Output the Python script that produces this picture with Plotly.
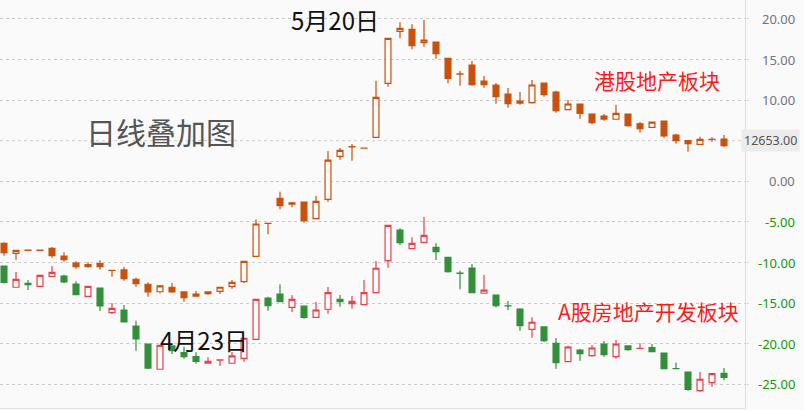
import plotly.graph_objects as go

# candle index (trading days)
days = list(range(61))

# 港股地产板块 (% change)
hk_open = [-7.64, -8.87, -8.50, -8.50, -8.25, -9.20, -10.06, -10.26, -10.14, -10.98,
           -10.92, -12.07, -12.68, -13.60, -13.05, -13.63, -13.88, -13.63, -13.55, -12.93,
           -12.36, -9.24, -5.19, -2.09, -2.65, -2.55, -4.60, -2.22, 3.08, 4.24,
           4.08, 5.42, 12.07, 18.47, 18.72, 17.07, 17.15, 15.15, 13.23, 14.32,
           12.35, 11.86, 10.75, 9.89, 9.68, 12.10, 11.00, 8.82, 9.52, 8.29,
           8.04, 7.64, 8.29, 7.09, 6.65, 7.43, 5.70, 5.00, 4.56, 5.15, 5.21]
hk_high = [-7.50, -8.50, -8.48, -8.48, -8.09, -8.74, -9.85, -9.98, -9.73, -10.96,
           -10.55, -11.87, -12.44, -12.77, -12.52, -13.60, -13.51, -13.63, -13.05, -12.16,
           -9.85, -4.68, -5.17, -1.28, -2.51, -2.55, -1.81, 3.73, 4.10, 4.59,
           4.10, 12.39, 17.61, 19.58, 19.33, 19.86, 17.15, 15.15, 13.58, 14.81,
           12.97, 12.10, 11.49, 11.00, 12.48, 12.10, 11.16, 10.01, 9.52, 8.29,
           8.29, 9.40, 8.29, 7.30, 7.30, 7.43, 5.86, 5.00, 5.49, 5.42, 5.70]
hk_low = [-9.16, -9.65, -8.50, -8.50, -9.41, -9.90, -10.76, -10.64, -10.88, -11.75,
          -12.24, -12.98, -14.21, -13.79, -13.72, -14.83, -14.21, -13.96, -13.88, -13.23,
          -12.52, -9.24, -6.53, -3.45, -3.20, -5.10, -4.60, -2.51, 2.66, 2.54,
          4.08, 5.42, 11.65, 17.61, 16.26, 16.58, 15.10, 12.07, 11.77, 11.77,
          11.53, 9.56, 9.06, 9.43, 9.56, 10.42, 8.45, 8.82, 7.71, 7.02,
          7.46, 7.64, 6.72, 5.99, 6.65, 5.37, 4.63, 3.65, 4.56, 4.88, 4.19]
hk_close = [-8.79, -8.50, -8.48, -8.48, -9.16, -9.65, -10.50, -10.50, -10.50, -10.96,
            -11.99, -12.61, -13.63, -12.89, -13.63, -14.33, -14.13, -13.84, -13.05, -12.44,
            -9.85, -5.26, -5.17, -3.00, -2.80, -4.85, -2.46, 2.62, 3.82, 4.26,
            4.10, 10.34, 17.61, 18.84, 16.70, 17.40, 15.71, 12.68, 13.21, 11.90,
            11.90, 10.42, 9.56, 9.64, 11.86, 10.67, 8.69, 9.52, 8.37, 7.22,
            7.67, 8.37, 6.85, 6.48, 7.30, 5.58, 5.00, 4.63, 5.17, 5.17, 4.38]

# A股房地产开发板块 (% change)
a_open = [-10.43, -13.05, -12.56, -12.93, -11.70, -11.66, -12.65, -14.16, -13.14, -16.18,
          -15.85, -17.82, -20.04, -23.15, -20.28, -21.10, -21.60, -22.41, -22.02, -22.41,
          -21.80, -19.46, -14.37, -13.88, -15.52, -15.36, -16.75, -15.76, -14.53, -15.07,
          -15.20, -13.72, -9.78, -6.00, -8.30, -7.51, -8.13, -9.36, -11.31, -10.68,
          -13.79, -14.00, -15.34, -15.73, -18.23, -17.94, -19.95, -22.22, -20.78, -21.48,
          -20.04, -21.60, -20.28, -20.59, -20.49, -21.15, -23.06, -23.49, -25.79, -24.80, -23.65]
a_high = [-10.43, -11.17, -12.16, -11.58, -10.43, -11.50, -12.32, -12.93, -13.14, -14.99,
          -15.23, -17.17, -20.04, -20.20, -20.28, -20.37, -21.06, -21.67, -21.99, -21.02,
          -19.33, -14.53, -14.21, -12.68, -14.04, -15.36, -14.86, -13.02, -14.00, -14.13,
          -12.16, -9.82, -5.42, -5.79, -6.90, -4.40, -7.64, -9.36, -11.01, -10.18,
          -11.54, -14.00, -14.74, -15.65, -16.75, -17.94, -19.30, -20.25, -20.65, -20.16,
          -19.67, -19.54, -20.28, -19.95, -20.04, -21.15, -22.34, -23.49, -23.49, -23.69, -22.99]
a_low = [-12.60, -13.05, -13.39, -12.93, -11.75, -12.53, -13.96, -14.16, -15.97, -16.34,
         -17.33, -20.86, -23.12, -23.15, -21.27, -21.85, -22.46, -22.41, -22.75, -22.41,
         -22.22, -19.46, -15.94, -14.83, -16.10, -16.92, -16.75, -16.31, -15.44, -15.69,
         -15.20, -13.72, -10.64, -7.84, -8.30, -7.51, -9.69, -11.26, -13.30, -13.79,
         -13.79, -15.52, -15.85, -18.40, -19.26, -19.79, -23.08, -22.22, -22.09, -21.60,
         -21.60, -21.85, -20.86, -20.59, -20.98, -23.16, -23.10, -25.79, -25.95, -25.30, -24.50]
a_close = [-12.44, -12.07, -12.73, -11.58, -11.21, -12.40, -13.96, -12.93, -15.36, -15.64,
           -17.33, -19.42, -23.00, -20.20, -20.86, -21.60, -22.17, -22.17, -21.99, -21.51,
           -19.33, -14.53, -15.32, -14.83, -14.53, -16.75, -15.85, -13.72, -14.83, -14.78,
           -13.72, -10.71, -5.42, -7.56, -7.64, -6.65, -8.67, -11.13, -11.33, -13.72,
           -13.39, -15.32, -15.36, -17.78, -17.36, -19.63, -22.34, -20.41, -21.23, -20.53,
           -21.36, -20.04, -20.74, -20.57, -20.98, -23.08, -23.08, -25.62, -24.38, -23.69, -24.14]

tick_vals = [20, 15, 10, 0, -5, -10, -15, -20, -25]
last_price = "12653.00"

BG = "#fafafa"
HK = "#c9510c"
UP = "#e8414a"
DOWN = "#338f3a"

fig = go.Figure()
fig.add_trace(go.Candlestick(
    x=days, open=hk_open, high=hk_high, low=hk_low, close=hk_close,
    increasing=dict(line=dict(color=HK, width=1.2), fillcolor=BG),
    decreasing=dict(line=dict(color=HK, width=1.2), fillcolor=HK),
    whiskerwidth=0, showlegend=False, hoverinfo="skip"))
fig.add_trace(go.Candlestick(
    x=days, open=a_open, high=a_high, low=a_low, close=a_close,
    increasing=dict(line=dict(color=UP, width=1.2), fillcolor=BG),
    decreasing=dict(line=dict(color=DOWN, width=1.2), fillcolor=DOWN),
    whiskerwidth=0, showlegend=False, hoverinfo="skip"))

# 5.00 gridline sits behind the price tag, draw it separately
fig.add_hline(y=5, line=dict(color="#cccccc", width=1, dash="dot"), layer="below")

cjk = "Noto Sans CJK SC"
ann = [
    dict(text="日线叠加图", x=0.216, y=0.679, font=dict(size=30, color="#555555", family=cjk)),
    dict(text="5月20日", x=0.45, y=0.951, font=dict(size=24, color="#111111", family=cjk)),
    dict(text="4月23日", x=0.274, y=0.167, font=dict(size=24, color="#111111", family=cjk)),
    dict(text="港股地产板块", x=0.882, y=0.804, font=dict(size=21, color="#ff1a1a", family=cjk)),
    dict(text="A股房地产开发板块", x=0.871, y=0.238, font=dict(size=21, color="#ff1a1a", family=cjk)),
]
for a in ann:
    fig.add_annotation(xref="paper", yref="paper", showarrow=False,
                       xanchor="center", yanchor="middle", **a)

# right-aligned axis labels, negatives in green
lab_x = 797 / 745
for v in tick_vals:
    col = "#0f990f" if v < 0 else "#72727e"
    fig.add_annotation(xref="paper", yref="y", x=lab_x, y=v, xanchor="right",
                       text=f"{v:.2f}", showarrow=False,
                       font=dict(size=13, color=col, family="Noto Sans"))

fig.add_annotation(xref="paper", yref="y", x=800 / 745, y=5, xanchor="right",
                   text=last_price, showarrow=False, bgcolor="#ececec",
                   borderpad=2, font=dict(size=12.5, color="#555555", family="Noto Sans"))

fig.update_layout(
    width=804, height=410,
    margin=dict(l=0, r=59, t=0, b=2),
    paper_bgcolor=BG, plot_bgcolor=BG,
    xaxis=dict(range=[-0.333, 61.75], showgrid=False, showticklabels=False,
               zeroline=False, rangeslider=dict(visible=False),
               showline=True, linecolor="#e2e2e2"),
    yaxis=dict(side="right", range=[-27.92, 22.33], tickvals=tick_vals,
               showticklabels=False, showgrid=True, gridcolor="#cccccc",
               griddash="dot", zeroline=False, showline=True, linecolor="#dddddd",
               ticks="outside", ticklen=3, tickcolor="#dddddd"),
)

fig.write_html("out.html", config={"displayModeBar": False},
               post_script="document.body.style.margin='0';")
